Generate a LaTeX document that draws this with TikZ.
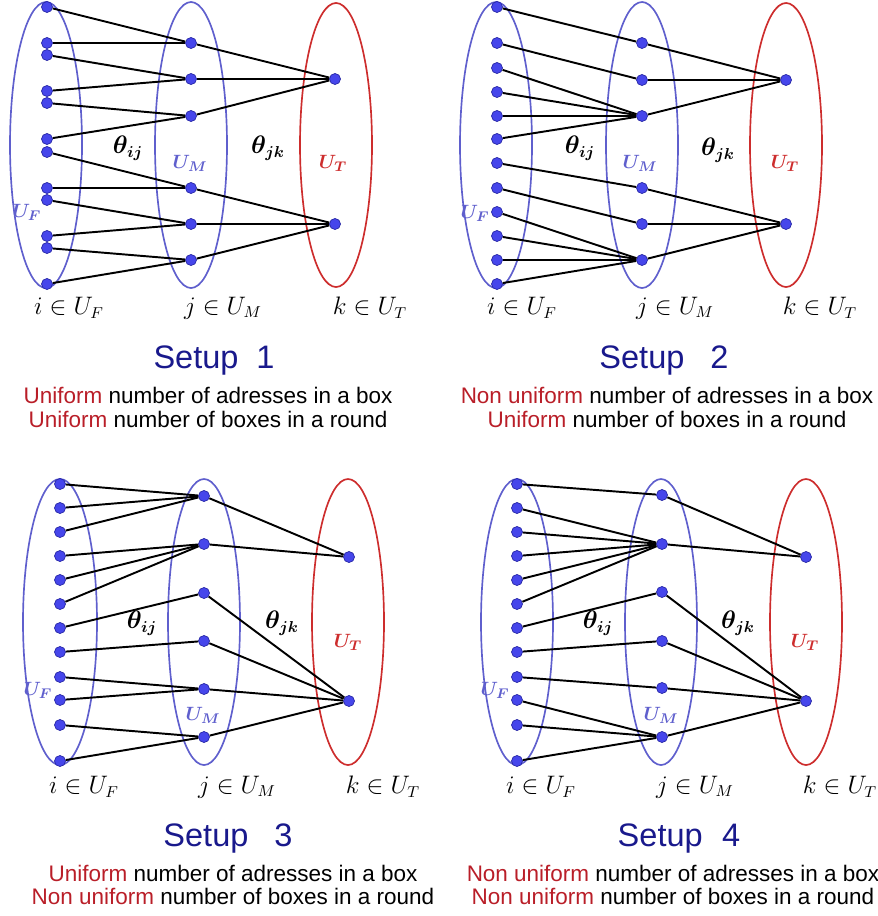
\documentclass[tikz,border=0pt]{standalone}
\usepackage{amsmath}
\usepackage{amssymb}
\usepackage{fontspec}
\newfontfamily\capfont{Liberation Sans}
\definecolor{setblue}{RGB}{95,95,205}
\definecolor{setred}{RGB}{205,45,45}
\definecolor{dotblue}{RGB}{70,70,235}
\definecolor{dotedge}{RGB}{40,40,165}
\definecolor{titleblue}{RGB}{25,25,140}
\definecolor{wordred}{RGB}{185,30,40}

\begin{document}
\begin{tikzpicture}[
  x=0.02cm, y=-0.02cm,
  elem/.style    = {circle, draw=dotedge, fill=dotblue, inner sep=0pt, minimum size=0.22cm},
  link/.style    = {line width=1.1pt, black},
  setF/.style    = {draw=setblue, line width=0.95pt},
  setT/.style    = {draw=setred, line width=0.95pt},
  theta/.style   = {font=\boldmath\fontsize{13.5}{15}\selectfont},
  idx/.style     = {font=\fontsize{13.5}{15}\selectfont},
  setlbl/.style  = {font=\boldmath\fontsize{11}{13}\selectfont},
  setuphead/.style = {anchor=base, text=titleblue, font=\capfont\fontsize{18.5}{22}\selectfont},
  remark/.style  = {anchor=base, font=\capfont\fontsize{12.8}{15}\selectfont},
]
\useasboundingbox (0,0) rectangle (878,916);

%--- Setup 1 ---
  \draw[setF] (46,145) ellipse (36 and 143);
  \draw[setF] (191,145) ellipse (36 and 143);
  \draw[setT] (336,145) ellipse (36 and 142);
  \foreach \y [count=\n] in {7,43,55,91,103,139,152,188,200,236,248,284}
    \node[elem] (aF\n) at (47,\y) {};
  \foreach \y [count=\n] in {43,79,116,188,224,260}
    \node[elem] (aM\n) at (191,\y) {};
  \foreach \y [count=\n] in {79,224}
    \node[elem] (aT\n) at (335,\y) {};
  \foreach \f/\m in {1/1,2/1,3/2,4/2,5/3,6/3,7/4,8/4,9/5,10/5,11/6,12/6}
    \draw[link] (aF\f) -- (aM\m);
  \foreach \m/\t in {1/1,2/1,3/1,4/2,5/2,6/2}
    \draw[link] (aM\m) -- (aT\t);
  \node[theta]  (aij) at (128,148) {$\theta_{ij}$};
  \node[theta]  (ajk) at (268,148) {$\theta_{jk}$};
  \node[setlbl, text=setblue] (aUM) at (190,163) {$U_M$};
  \node[setlbl, text=setred]  (aUT) at (333,163) {$U_T$};
  \node[setlbl, text=setblue] (aUF) at (27,212)  {$U_F$};
  \node[idx] (ai) at (69,308)  {$i\in U_F$};
  \node[idx] (aj) at (223,308) {$j\in U_M$};
  \node[idx] (ak) at (370,308) {$k\in U_T$};
  \node[setuphead] (ahead) at (214,368) {Setup\hspace{0.55em}1};
  \node[remark] (ar1) at (208,403) {\textcolor{wordred}{Uniform} number of adresses in a box};
  \node[remark] (ar2) at (208,427) {\textcolor{wordred}{Uniform} number of boxes in a round};

%--- Setup 2 ---
  \draw[setF] (496,145) ellipse (36 and 143);
  \draw[setF] (642,145) ellipse (36 and 143);
  \draw[setT] (786,145) ellipse (36 and 142);
  \foreach \y [count=\n] in {7,43,68,92,116,139,163,188,212,236,260,284}
    \node[elem] (bF\n) at (497,\y) {};
  \foreach \y [count=\n] in {43,80,116,188,224,260}
    \node[elem] (bM\n) at (642,\y) {};
  \foreach \y [count=\n] in {80,224}
    \node[elem] (bT\n) at (786,\y) {};
  \foreach \f/\m in {1/1,2/2,3/3,4/3,5/3,6/3,7/4,8/5,9/6,10/6,11/6,12/6}
    \draw[link] (bF\f) -- (bM\m);
  \foreach \m/\t in {1/1,2/1,3/1,4/2,5/2,6/2}
    \draw[link] (bM\m) -- (bT\t);
  \node[theta]  (bij) at (580,148) {$\theta_{ij}$};
  \node[theta]  (bjk) at (718,150) {$\theta_{jk}$};
  \node[setlbl, text=setblue] (bUM) at (640,163) {$U_M$};
  \node[setlbl, text=setred]  (bUT) at (785,163) {$U_T$};
  \node[setlbl, text=setblue] (bUF) at (475,213) {$U_F$};
  \node[idx] (bi) at (522,308) {$i\in U_F$};
  \node[idx] (bj) at (675,308) {$j\in U_M$};
  \node[idx] (bk) at (820,308) {$k\in U_T$};
  \node[setuphead] (bhead) at (664,368) {Setup\hspace{0.8em}2};
  \node[remark] (br1) at (667,403) {\textcolor{wordred}{Non uniform} number of adresses in a box};
  \node[remark] (br2) at (667,427) {\textcolor{wordred}{Uniform} number of boxes in a round};

%--- Setup 3 ---
  \draw[setF] (60,622) ellipse (37 and 143);
  \draw[setF] (204,622) ellipse (36 and 143);
  \draw[setT] (348,622) ellipse (36 and 143);
  \foreach \y [count=\n] in {484,508,532,556,580,604,628,652,677,700,725,761}
    \node[elem] (cF\n) at (60,\y) {};
  \foreach \y [count=\n] in {496,544,593,641,689,737}
    \node[elem] (cM\n) at (204,\y) {};
  \foreach \y [count=\n] in {557,701}
    \node[elem] (cT\n) at (349,\y) {};
  \foreach \f/\m in {1/1,2/1,3/1,4/2,5/2,6/2,7/3,8/4,9/5,10/5,11/6,12/6}
    \draw[link] (cF\f) -- (cM\m);
  \foreach \m/\t in {1/1,2/1,3/2,4/2,5/2,6/2}
    \draw[link] (cM\m) -- (cT\t);
  \node[theta]  (cij) at (142,623) {$\theta_{ij}$};
  \node[theta]  (cjk) at (282,623) {$\theta_{jk}$};
  \node[setlbl, text=setblue] (cUM) at (203,715) {$U_M$};
  \node[setlbl, text=setred]  (cUT) at (348,642) {$U_T$};
  \node[setlbl, text=setblue] (cUF) at (38,690)  {$U_F$};
  \node[idx] (ci) at (84,787)  {$i\in U_F$};
  \node[idx] (cj) at (237,787) {$j\in U_M$};
  \node[idx] (ck) at (383,787) {$k\in U_T$};
  \node[setuphead] (chead) at (228,846) {Setup\hspace{0.8em}3};
  \node[remark] (cr1) at (233,881) {\textcolor{wordred}{Uniform} number of adresses in a box};
  \node[remark] (cr2) at (233,904) {\textcolor{wordred}{Non uniform} number of boxes in a round};

%--- Setup 4 ---
  \draw[setF] (517,622) ellipse (36 and 143);
  \draw[setF] (661,622) ellipse (36 and 143);
  \draw[setT] (806,622) ellipse (36 and 143);
  \foreach \y [count=\n] in {484,508,532,556,580,604,628,652,677,700,725,761}
    \node[elem] (dF\n) at (517,\y) {};
  \foreach \y [count=\n] in {495,544,592,641,688,737}
    \node[elem] (dM\n) at (662,\y) {};
  \foreach \y [count=\n] in {557,701}
    \node[elem] (dT\n) at (806,\y) {};
  \foreach \f/\m in {1/1,2/2,3/2,4/2,5/2,6/2,7/3,8/4,9/5,10/6,11/6,12/6}
    \draw[link] (dF\f) -- (dM\m);
  \foreach \m/\t in {1/1,2/1,3/2,4/2,5/2,6/2}
    \draw[link] (dM\m) -- (dT\t);
  \node[theta]  (dij) at (598,623) {$\theta_{ij}$};
  \node[theta]  (djk) at (738,623) {$\theta_{jk}$};
  \node[setlbl, text=setblue] (dUM) at (661,715) {$U_M$};
  \node[setlbl, text=setred]  (dUT) at (805,642) {$U_T$};
  \node[setlbl, text=setblue] (dUF) at (495,690) {$U_F$};
  \node[idx] (di) at (541,787) {$i\in U_F$};
  \node[idx] (dj) at (695,787) {$j\in U_M$};
  \node[idx] (dk) at (840,787) {$k\in U_T$};
  \node[setuphead] (dhead) at (679,846) {Setup\hspace{0.6em}4};
  \node[remark] (dr1) at (673,881) {\textcolor{wordred}{Non uniform} number of adresses in a box};
  \node[remark] (dr2) at (673,904) {\textcolor{wordred}{Non uniform} number of boxes in a round};
\end{tikzpicture}
\end{document}
